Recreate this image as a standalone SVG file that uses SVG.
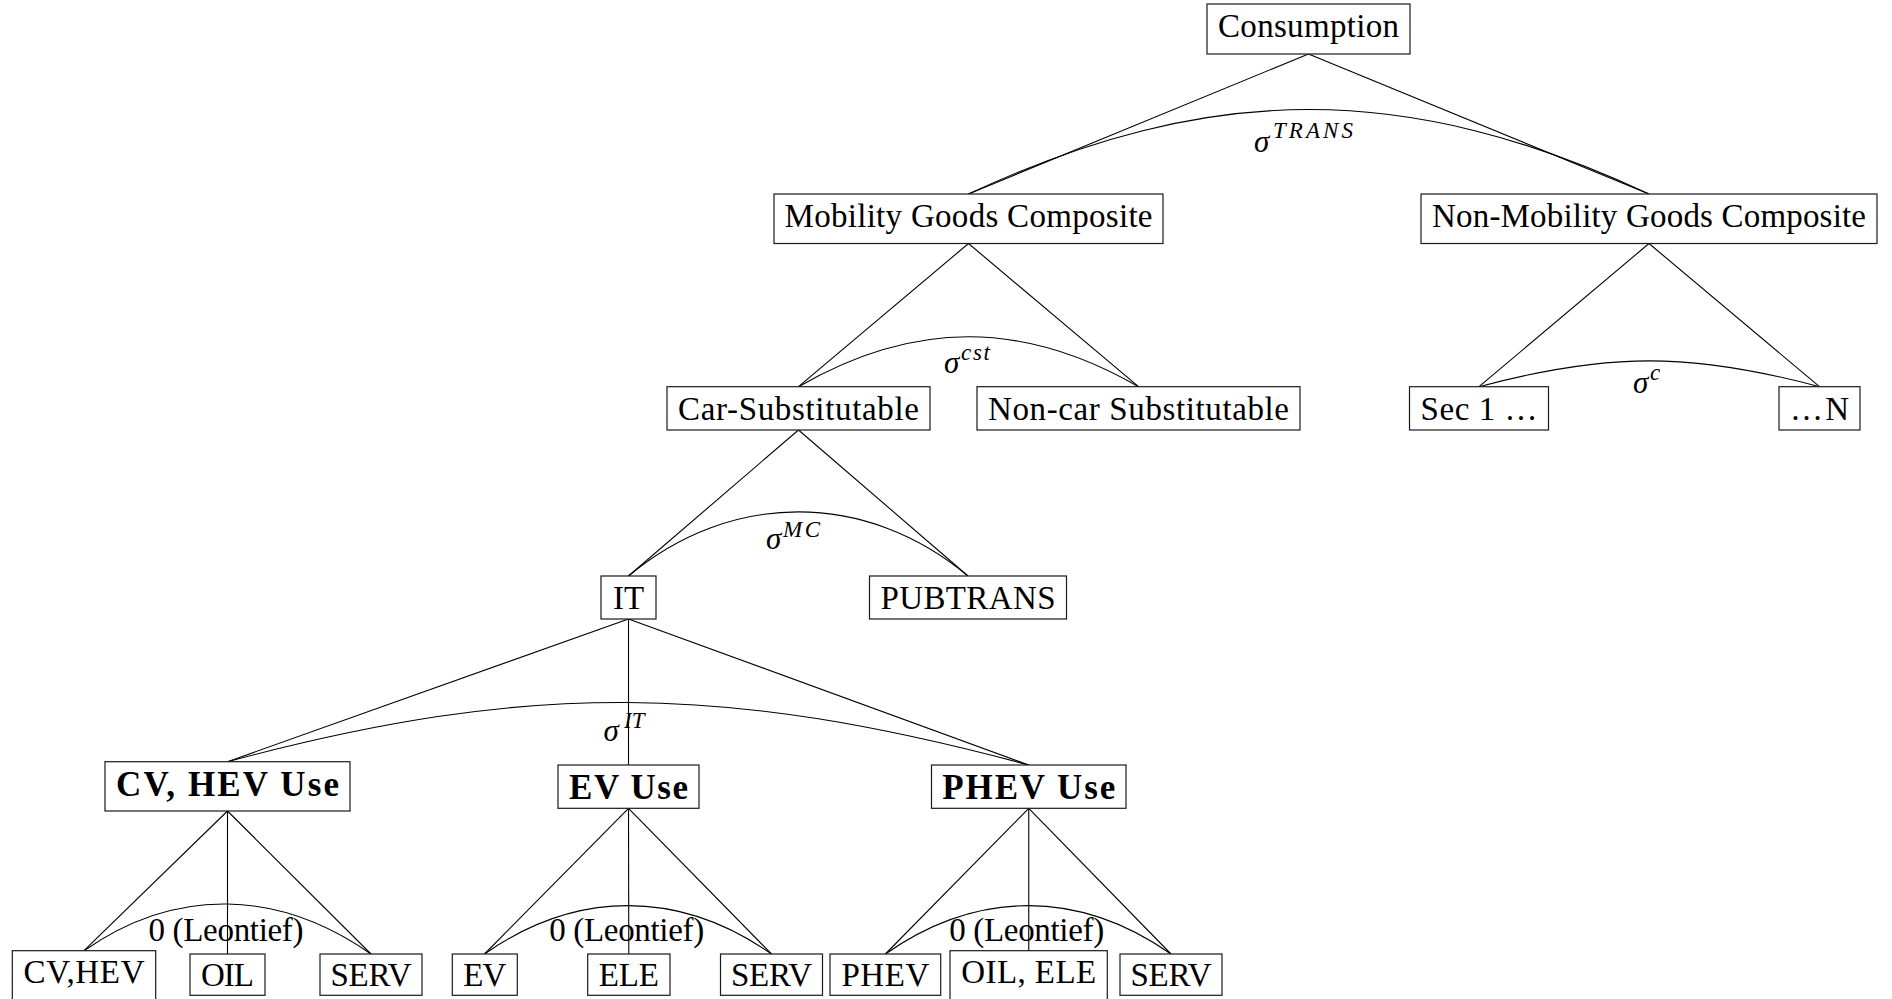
<svg xmlns="http://www.w3.org/2000/svg" width="1892" height="999" viewBox="0 0 1892 999">
<style>
.bg{fill:#fff}
.box{fill:#fff;stroke:#1a1a1a;stroke-width:1.2}
.lbl{font-family:"Liberation Serif","Times New Roman",serif;font-size:33px;text-anchor:middle;fill:#000}
.b{font-weight:bold;font-size:35px}
.edge{stroke:#000;stroke-width:1.1;fill:none}
.sig{font-family:"Liberation Serif","Times New Roman",serif;font-style:italic;font-size:31px;fill:#000}
.sup{font-family:"Liberation Serif","Times New Roman",serif;font-style:italic;font-size:23px;fill:#000}
.elas{font-family:"Liberation Serif","Times New Roman",serif;font-size:33px;text-anchor:middle;fill:#000}
</style>
<rect class="bg" x="0" y="0" width="1892" height="999"/>
<g id="connectors">
<line class="edge" x1="1308.5" y1="54" x2="968.5" y2="194"/>
<line class="edge" x1="1308.5" y1="54" x2="1649" y2="194"/>
<line class="edge" x1="968.5" y1="243.5" x2="798.5" y2="386.7"/>
<line class="edge" x1="968.5" y1="243.5" x2="1138.5" y2="386.7"/>
<line class="edge" x1="1649" y1="243.5" x2="1479" y2="386.7"/>
<line class="edge" x1="1649" y1="243.5" x2="1819.5" y2="386.7"/>
<line class="edge" x1="798.5" y1="430" x2="628.5" y2="576"/>
<line class="edge" x1="798.5" y1="430" x2="968" y2="576"/>
<line class="edge" x1="628.5" y1="619" x2="227.5" y2="761.7"/>
<line class="edge" x1="628.5" y1="619" x2="628.5" y2="765"/>
<line class="edge" x1="628.5" y1="619" x2="1028.75" y2="765"/>
<line class="edge" x1="227.5" y1="811" x2="84" y2="950.7"/>
<line class="edge" x1="227.5" y1="811" x2="227.5" y2="954"/>
<line class="edge" x1="227.5" y1="811" x2="371" y2="954"/>
<line class="edge" x1="628.5" y1="808.3" x2="484.5" y2="954"/>
<line class="edge" x1="628.5" y1="808.3" x2="628.8" y2="954"/>
<line class="edge" x1="628.5" y1="808.3" x2="771.5" y2="954"/>
<line class="edge" x1="1028.75" y1="808.3" x2="885.4" y2="954"/>
<line class="edge" x1="1028.75" y1="808.3" x2="1028.75" y2="950.7"/>
<line class="edge" x1="1028.75" y1="808.3" x2="1171" y2="954"/>
<path class="edge" d="M968.5,194 C1210,81.4 1407.6,81.4 1649,194"/>
<path class="edge" d="M798.5,386.7 C913.8,320.1 1023.2,320.1 1138.5,386.7"/>
<path class="edge" d="M1479,386.7 C1607.8,352.2 1690.7,352.2 1819.5,386.7"/>
<path class="edge" d="M628.5,576 C730.4,490.5 866.1,490.5 968,576"/>
<path class="edge" d="M227.5,761.7 C530.5,680.5 725.7,683.8 1028.75,765"/>
<path class="edge" d="M84,950.7 C176,886.2 279,889.5 371,954"/>
<path class="edge" d="M484.5,954 C576.5,889.5 679.5,889.5 771.5,954"/>
<path class="edge" d="M885.4,954 C977.4,889.5 1079,889.5 1171,954"/>
<text class="sig" x="1254" y="151.5">σ</text><text class="sup" x="1273" y="138" textLength="80">TRANS</text>
<text class="sig" x="944" y="372.5">σ</text><text class="sup" x="961" y="360" textLength="29">cst</text>
<text class="sig" x="1633" y="392.5">σ</text><text class="sup" x="1650" y="380">c</text>
<text class="sig" x="766" y="549">σ</text><text class="sup" x="783" y="536.5" textLength="37">MC</text>
<text class="sig" x="603.5" y="740.5">σ</text><text class="sup" x="624" y="728">IT</text>
<text class="elas" x="226" y="941" textLength="155">0 (Leontief)</text>
<text class="elas" x="626.7" y="941" textLength="155">0 (Leontief)</text>
<text class="elas" x="1026.7" y="941" textLength="155">0 (Leontief)</text>
</g>
<g id="n-consumption"><rect class="box" x="1207" y="4" width="203" height="50"/><text class="lbl" x="1308.5" y="37" textLength="181">Consumption</text></g>
<g id="n-mobility"><rect class="box" x="774" y="194" width="389" height="49.5"/><text class="lbl" x="968.5" y="226.5" textLength="368">Mobility Goods Composite</text></g>
<g id="n-nonmobility"><rect class="box" x="1421" y="194" width="456" height="49.5"/><text class="lbl" x="1649" y="226.5" textLength="434">Non-Mobility Goods Composite</text></g>
<g id="n-carsub"><rect class="box" x="667" y="386.7" width="263" height="43.3"/><text class="lbl" x="798.5" y="419.5" textLength="241">Car-Substitutable</text></g>
<g id="n-noncarsub"><rect class="box" x="977" y="386.7" width="323" height="43.3"/><text class="lbl" x="1138.5" y="419.5" textLength="301">Non-car Substitutable</text></g>
<g id="n-sec1"><rect class="box" x="1409.5" y="386.7" width="139" height="43.3"/><text class="lbl" x="1479" y="419.5" textLength="117">Sec 1 …</text></g>
<g id="n-secn"><rect class="box" x="1779" y="386.7" width="81" height="43.3"/><text class="lbl" x="1819.5" y="419.5" textLength="59">…N</text></g>
<g id="n-it"><rect class="box" x="601" y="576" width="55" height="43"/><text class="lbl" x="628.5" y="609">IT</text></g>
<g id="n-pubtrans"><rect class="box" x="869.5" y="576" width="197" height="43"/><text class="lbl" x="968" y="609" textLength="175">PUBTRANS</text></g>
<g id="n-cvhevuse"><rect class="box" x="105" y="761.7" width="245" height="49.3"/><text class="lbl b" x="227.5" y="795.5" textLength="223">CV, HEV Use</text></g>
<g id="n-evuse"><rect class="box" x="558" y="765" width="141" height="43.3"/><text class="lbl b" x="628.5" y="798.5" textLength="119">EV Use</text></g>
<g id="n-phevuse"><rect class="box" x="931.5" y="765" width="194.5" height="43.3"/><text class="lbl b" x="1028.75" y="798.5" textLength="173">PHEV Use</text></g>
<g id="n-cvhev"><rect class="box" x="12.3" y="950.7" width="143.4" height="52"/><text class="lbl" x="84" y="983" textLength="121">CV,HEV</text></g>
<g id="n-oil"><rect class="box" x="190" y="954" width="75" height="41.3"/><text class="lbl" x="227.5" y="985.5" textLength="53">OIL</text></g>
<g id="n-serv1"><rect class="box" x="320" y="954" width="102" height="41.3"/><text class="lbl" x="371" y="985.5" textLength="81">SERV</text></g>
<g id="n-ev"><rect class="box" x="452.3" y="954" width="65" height="41.3"/><text class="lbl" x="484.8" y="985.5" textLength="43">EV</text></g>
<g id="n-ele"><rect class="box" x="587.7" y="954" width="82.3" height="41.3"/><text class="lbl" x="628.8" y="985.5" textLength="60">ELE</text></g>
<g id="n-serv2"><rect class="box" x="720.5" y="954" width="102" height="41.3"/><text class="lbl" x="771.5" y="985.5" textLength="81">SERV</text></g>
<g id="n-phev"><rect class="box" x="830" y="954" width="110.7" height="41.3"/><text class="lbl" x="885.4" y="985.5" textLength="88">PHEV</text></g>
<g id="n-oilele"><rect class="box" x="950" y="950.7" width="157.3" height="52"/><text class="lbl" x="1028.7" y="983" textLength="135">OIL, ELE</text></g>
<g id="n-serv3"><rect class="box" x="1120" y="954" width="102" height="41.3"/><text class="lbl" x="1171" y="985.5" textLength="81">SERV</text></g>
</svg>
